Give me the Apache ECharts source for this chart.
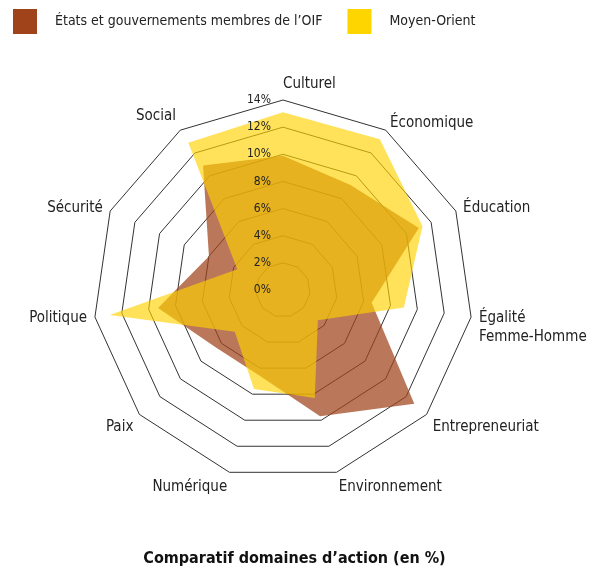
<!DOCTYPE html>
<html><head><meta charset="utf-8">
<script src="https://cdn.jsdelivr.net/npm/echarts@6/dist/echarts.min.js"></script>
<style>html,body{margin:0;padding:0;background:#fff}#c{width:589px;height:573px}</style>
</head><body><div id="c"></div>
<script>
// Data (clockwise from the top)
const categories = ['Culturel', 'Économique', 'Éducation', 'Égalité\nFemme-Homme', 'Entrepreneuriat', 'Environnement', 'Numérique', 'Paix', 'Politique', 'Sécurité', 'Social'];
const oifValues = [9.9, 9.2, 11.0, 6.6, 12.8, 9.7, 6.5, 6.5, 9.3, 6.0, 10.9];
const moValues = [13.1, 13.2, 11.3, 9.0, 3.4, 8.3, 7.6, 4.7, 12.9, 3.7, 12.9];
const tickValues = [0, 2, 4, 6, 8, 10, 12, 14];
const seriesNames = ['États et gouvernements membres de l’OIF', 'Moyen-Orient'];
const titleText = 'Comparatif domaines d’action (en %)';

// Styles
const FONT = '"DejaVu Sans Condensed", "Liberation Sans Narrow", sans-serif';
const nameStyles = [
  {align: 'left', verticalAlign: 'bottom'},
  {align: 'left', verticalAlign: 'middle'},
  {align: 'left', verticalAlign: 'middle'},
  {align: 'left', verticalAlign: 'middle', lineHeight: 19},
  {align: 'left', verticalAlign: 'top'},
  {align: 'left', verticalAlign: 'top'},
  {align: 'right', verticalAlign: 'top'},
  {align: 'right', verticalAlign: 'top'},
  {align: 'right', verticalAlign: 'middle'},
  {align: 'right', verticalAlign: 'middle'},
  {align: 'right', verticalAlign: 'bottom'}
];

// ECharts places radar indicators counter-clockwise: reorder
const order = [0];
for (let i = categories.length - 1; i >= 1; i--) order.push(i);

const minV = tickValues[0], maxV = tickValues[tickValues.length - 1];
const indicatorBase = order.map(i => ({
  name: categories[i], min: minV, max: maxV,
  nameTextStyle: Object.assign({}, nameStyles[i])
}));
const indicatorLabels = order.map((i, k) => {
  const ind = {name: categories[i], min: minV, max: maxV};
  if (k === 0) ind.axisLabel = {show: true};
  return ind;
});

const radarCommon = {
  center: [283, 290],
  radius: 190,
  startAngle: 90,
  shape: 'polygon',
  splitNumber: tickValues.length - 1,
  axisLine: {show: false},
  axisTick: {show: false},
  splitArea: {show: false}
};

const chart = echarts.init(document.getElementById('c'), null, {renderer: 'canvas'});
chart.setOption({
  animation: false,
  backgroundColor: '#fff',
  title: {
    text: titleText, left: 'center', top: 546,
    textStyle: {fontFamily: FONT, fontSize: 16, fontWeight: 'bold', color: '#111'}
  },
  legend: {
    left: 8, top: 4, itemWidth: 24, itemHeight: 25, itemGap: 25,
    icon: 'rect',
    data: seriesNames,
    textStyle: {fontFamily: FONT, fontSize: 14, color: '#222', padding: [0, 0, 0, 13]}
  },
  radar: [
    Object.assign({}, radarCommon, {
      z: 0,
      indicator: indicatorBase,
      axisName: {fontFamily: FONT, fontSize: 15, color: '#222',
        formatter: v => (v.indexOf('\n') >= 0 ? '\n' + v : v)},
      nameGap: 8,
      axisLabel: {show: false},
      splitLine: {lineStyle: {color: '#333', width: 1}}
    }),
    Object.assign({}, radarCommon, {
      z: 5,
      indicator: indicatorLabels,
      axisName: {show: false},
      axisLabel: {show: false, fontFamily: FONT, fontSize: 12, color: '#222',
        formatter: v => v + '%', margin: 12},
      splitLine: {show: false}
    })
  ],
  series: [{
    type: 'radar',
    radarIndex: 0,
    symbol: 'none',
    data: [
      {name: seriesNames[0], value: order.map(i => oifValues[i]),
        itemStyle: {color: '#A0421A'}, lineStyle: {width: 0},
        areaStyle: {color: '#A0421A', opacity: 0.72}},
      {name: seriesNames[1], value: order.map(i => moValues[i]),
        itemStyle: {color: '#FFD500'}, lineStyle: {width: 0},
        areaStyle: {color: '#FFD200', opacity: 0.65}}
    ]
  }]
});
</script></body></html>
